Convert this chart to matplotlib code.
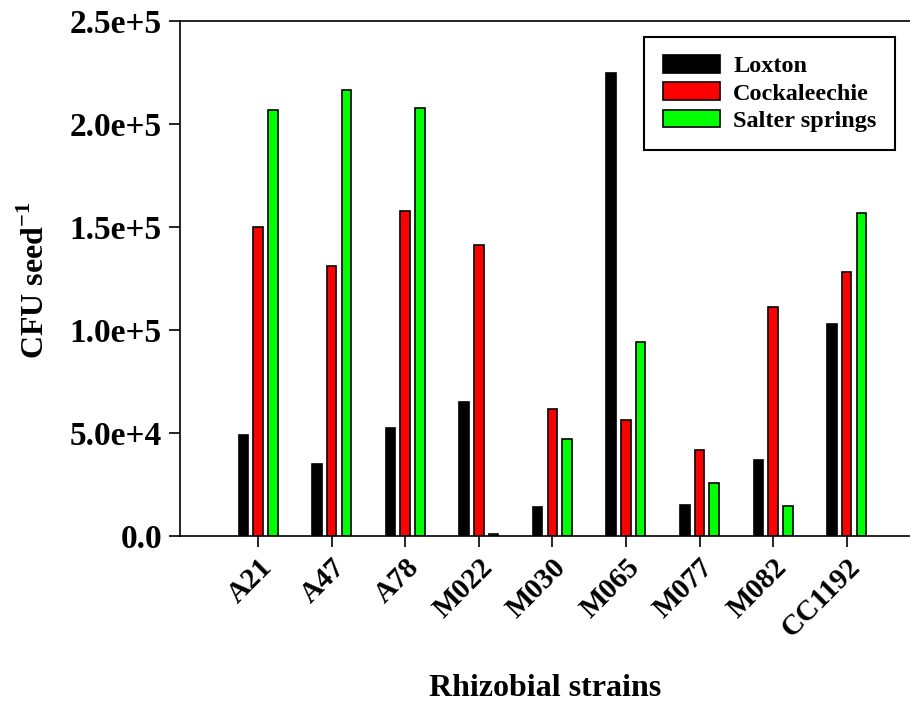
import matplotlib
matplotlib.use("Agg")
import matplotlib.pyplot as plt
import numpy as np

strains = ["A21", "A47", "A78", "M022", "M030", "M065", "M077", "M082", "CC1192"]
loxton = [49000, 35000, 52500, 65000, 14000, 225000, 15000, 37000, 103000]
cockaleechie = [150000, 131000, 158000, 141500, 61500, 56500, 41500, 111000, 128000]
salter = [207000, 216500, 208000, 1000, 47000, 94000, 25800, 14300, 157000]
series_names = ["Loxton", "Cockaleechie", "Salter springs"]
colors = ["#000000", "#ff0000", "#00ff00"]
yticks = [0, 50000, 100000, 150000, 200000, 250000]
ytick_labels = ["0.0", "5.0e+4", "1.0e+5", "1.5e+5", "2.0e+5", "2.5e+5"]

plt.rcParams['font.family'] = ['Liberation Serif', 'DejaVu Serif']
plt.rcParams['font.weight'] = 'bold'
plt.rcParams['mathtext.fontset'] = 'custom'
plt.rcParams['mathtext.rm'] = 'Liberation Serif:bold'
plt.rcParams['mathtext.bf'] = 'Liberation Serif:bold'

fig = plt.figure(figsize=(9.1, 7.04), dpi=100)
ax = fig.add_axes([0.1978, 0.239, 0.8022, 0.7306])

x = np.arange(len(strains))
offsets = [-0.2, 0.0, 0.2]
width = 0.13
for vals, name, c, off in zip([loxton, cockaleechie, salter], series_names, colors, offsets):
    ax.bar(x + off, vals, width=width, color=c, edgecolor='black', linewidth=1.2, label=name)

ax.set_xlim(-1.06, 8.86)
ax.set_ylim(0, 250000)
ax.set_xticks(x)
ax.set_xticklabels(strains, rotation=45, ha='right', rotation_mode='anchor', fontsize=21, fontweight='bold')
ax.set_yticks(yticks)
ax.set_yticklabels(ytick_labels, fontsize=24, fontweight='bold')
ax.tick_params(axis='both', direction='out', length=8, width=1.2, top=False, right=False)
ax.tick_params(axis='y', pad=5)
ax.tick_params(axis='x', pad=5)
ax.spines['right'].set_visible(False)
for s in ['left', 'bottom', 'top']:
    ax.spines[s].set_linewidth(1.2)

fig.text(35 / 910, 1 - 280 / 704, "CFU seed$^{\\mathregular{-1}}$", rotation=90,
         ha='center', va='center', fontsize=23, fontweight='bold')
fig.text(545 / 910, 1 - 688 / 704, "Rhizobial strains", ha='center', va='center',
         fontsize=23, fontweight='bold')

leg = ax.legend(loc='upper right', bbox_to_anchor=(0.979, 0.97), borderaxespad=0,
                fancybox=False, edgecolor='black', framealpha=1,
                prop={'family': 'Liberation Serif', 'weight': 'bold', 'size': 17.5},
                handlelength=2.35, handleheight=0.75, handletextpad=0.55,
                labelspacing=0.2, borderpad=0.75)
leg.get_frame().set_linewidth(1.5)

fig.savefig("out.png", dpi=100)
